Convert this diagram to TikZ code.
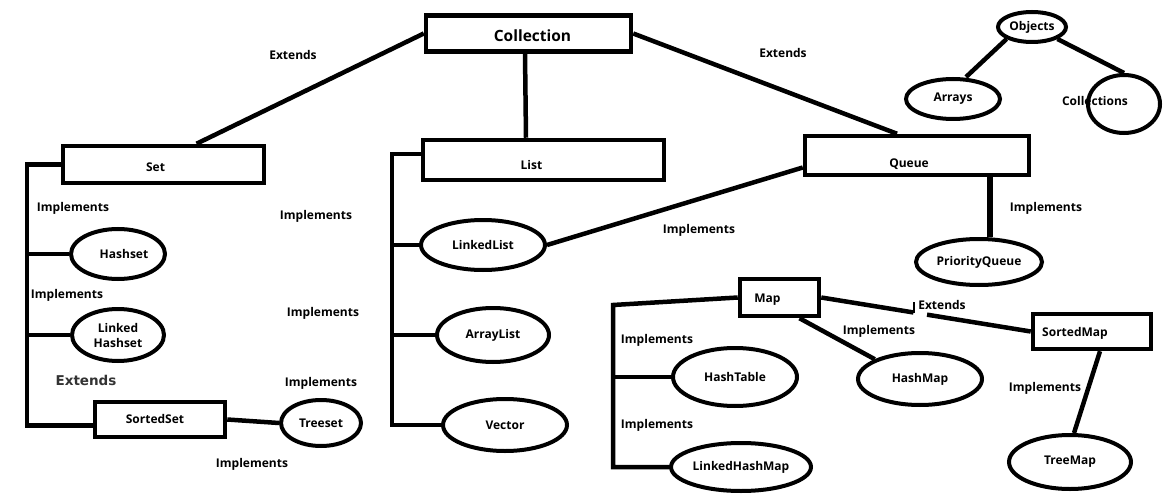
\documentclass[tikz,border=0pt]{standalone}
\usepackage{fontspec}
\setmainfont{Open Sans}
\newfontfamily\extfont{DejaVu Sans}
\usetikzlibrary{shapes.geometric,calc}
\begin{document}
\begin{tikzpicture}[x=1pt,y=-1pt,
  box/.style={draw, line width=4.5pt, inner sep=0pt, font=\bfseries\fontsize{12}{14}\selectfont},
  lowered/.style={text height=#1, text depth=0pt},
  oval/.style={draw, ellipse, line width=4pt, inner sep=0pt, align=center, font=\bfseries\fontsize{12}{15}\selectfont},
  conn/.style={line width=4.5pt},
  lbl/.style={inner sep=0pt, font=\bfseries\fontsize{12}{14}\selectfont}]
\fill[white] (0,0) rectangle (1165,500);
\useasboundingbox (0,0) rectangle (1165,500);

% boxes
\node[box, lowered=16pt, minimum width=205, minimum height=36, font=\bfseries\fontsize{15.5}{17}\selectfont] (collection) at (528.5,33.5) {\hspace*{8pt}Collection};
\node[box, lowered=14pt, minimum width=201, minimum height=37] (set) at (163.5,164.5) {Set\hspace*{16pt}};
\node[box, lowered=19pt, minimum width=241, minimum height=40] (list) at (543.5,160) {List\hspace*{24pt}};
\node[box, lowered=24pt, minimum width=224, minimum height=39] (queue) at (917,155.5) {Queue\hspace*{16pt}};
\node[box, lowered=9pt, minimum width=79, minimum height=37] (map) at (779.5,297.5) {Map\hspace*{24pt}};
\node[box, lowered=9pt, minimum width=118, minimum height=35] (sortedmap) at (1092,331.5) {SortedMap\hspace*{34pt}};
\node[box, lowered=7pt, minimum width=130, minimum height=35] (sortedset) at (160,419.5) {SortedSet\hspace*{10pt}};

% ellipses
\node[oval, minimum width=94, minimum height=50] (hashset) at (118,254) {\hspace*{12pt}Hashset};
\node[oval, minimum width=92, minimum height=52] (linkedhashset) at (118,335) {Linked\\Hashset};
\node[oval, minimum width=80, minimum height=46] (treeset) at (321,423) {Treeset};
\node[oval, minimum width=124, minimum height=50] (linkedlist) at (483,245) {LinkedList};
\node[oval, minimum width=112, minimum height=54] (arraylist) at (493,335) {ArrayList};
\node[oval, minimum width=124, minimum height=52] (vector) at (505,425) {Vector};
\node[oval, minimum width=126, minimum height=46] (priorityqueue) at (979,262) {PriorityQueue};
\node[oval, minimum width=124, minimum height=58] (hashtable) at (735,377) {HashTable};
\node[oval, minimum width=140, minimum height=48] (linkedhashmap) at (741,467) {LinkedHashMap};
\node[oval, minimum width=124, minimum height=52] (hashmap) at (920,379) {HashMap};
\node[oval, minimum width=122, minimum height=54] (treemap) at (1070,462) {TreeMap};
\node[oval, minimum width=68, minimum height=30] (objects) at (1032,27) {Objects};
\node[oval, minimum width=94, minimum height=40] (arrays) at (953,99) {Arrays};
\node[oval, minimum width=72, minimum height=58] (collections) at (1124,104) {};
\node[lbl] (collectionstext) at (1095,101) {Collections};

% connectors
\draw[conn] (collection.west) -- ([xshift=33pt]set.north);
\draw[conn] ([xshift=-3.5pt]collection.south) -- ([xshift=-17.5pt]list.north);
\draw[conn] (collection.east) -- ([xshift=-20pt]queue.north);
\draw[conn] ([yshift=-12pt]queue.west) -- (linkedlist.east);
\coordinate (pqtop) at ([xshift=73pt]queue.south);
\draw[line width=6pt] (pqtop) -- (pqtop |- priorityqueue.north);

\coordinate (sv) at (27,0);
\draw[conn] (set.west) -- (set.west -| sv) |- ([yshift=-6pt]sortedset.west);
\draw[conn] (hashset.west) -- (hashset.west -| sv);
\draw[conn] (linkedhashset.west) -- (linkedhashset.west -| sv);
\draw[conn] (sortedset.east) -- (treeset.west);

\coordinate (lv) at (392,0);
\coordinate (lstart) at ([yshift=6pt]list.west);
\draw[conn] (lstart) -- (lstart -| lv) |- (vector.west);
\draw[conn] (linkedlist.west) -- (linkedlist.west -| lv);
\draw[conn] (arraylist.west) -- (arraylist.west -| lv);

\coordinate (mtop) at (613,305);
\draw[conn] (map.west) -- (mtop) |- (linkedhashmap.west);
\draw[conn] (hashtable.west) -- (hashtable.west -| mtop);
\draw[conn] ([xshift=20pt]map.south) -- (hashmap.north west);
\draw[conn] (map.east) -- ($(map.east)!0.44!(sortedmap.west)$);
\draw[conn] ($(map.east)!0.505!(sortedmap.west)$) -- (sortedmap.west);
\draw[line width=1.5pt] (914,302) -- (914,313);
\draw[conn] ([xshift=8pt]sortedmap.south) -- ([xshift=4pt]treemap.north);

\draw[conn] (objects.south west) -- ([xshift=13pt]arrays.north);
\draw[conn] (objects.south east) -- (collections.north);

% labels
\node[lbl] (e1) at (293,55) {Extends};
\node[lbl] (e2) at (783,53) {Extends};
\node[lbl] (i1) at (73,208) {Implements};
\node[lbl] (i2) at (316,216) {Implements};
\node[lbl] (i3) at (67,295) {Implements};
\node[inner sep=0pt, text=black!80, font=\extfont\bfseries\fontsize{13.5}{15}\selectfont] (e3) at (86,380) {Extends};
\node[lbl] (i4) at (321,383) {Implements};
\node[lbl] (i5) at (252,464) {Implements};
\node[lbl] (i6) at (323,313) {Implements};
\node[lbl] (i7) at (699,230) {Implements};
\node[lbl] (i8) at (1046,208) {Implements};
\node[lbl] (i9) at (657,340) {Implements};
\node[lbl] (i10) at (657,425) {Implements};
\node[lbl] (i11) at (879,331) {Implements};
\node[lbl] (e4) at (942,305) {Extends};
\node[lbl] (i12) at (1045,388) {Implements};
\end{tikzpicture}
\end{document}
